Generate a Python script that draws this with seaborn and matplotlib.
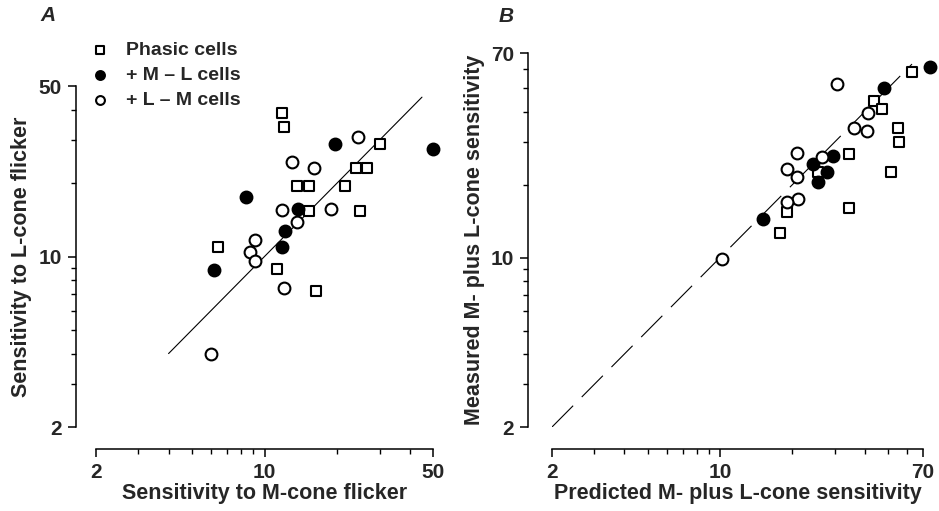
import matplotlib
matplotlib.use("Agg")
from matplotlib import pyplot as plt
from matplotlib.ticker import LogLocator, NullFormatter, FixedLocator, FixedFormatter
import seaborn as sns

sns.set_theme(style="white")
plt.rcParams["font.family"] = ["Liberation Sans", "DejaVu Sans"]
plt.rcParams["font.weight"] = "bold"

# Panel A: M-cone vs L-cone flicker sensitivity
a_phasic_x = [11.8, 12.0, 30.0, 24.0, 26.5, 13.7, 15.3, 21.6, 15.3, 24.8, 6.4, 11.3, 16.4]
a_phasic_y = [38.9, 33.8, 28.9, 23.1, 23.1, 19.4, 19.4, 19.4, 15.3, 15.3, 10.9, 8.9, 7.2]
a_ml_x = [19.7, 50.0, 8.4, 13.8, 12.2, 11.8, 6.2]
a_ml_y = [28.9, 27.6, 17.5, 15.7, 12.7, 10.9, 8.8]
a_lm_x = [24.5, 13.0, 16.0, 11.8, 18.8, 13.7, 9.1, 8.7, 9.1, 12.0, 6.0]
a_lm_y = [30.8, 24.5, 23.1, 15.5, 15.7, 13.9, 11.7, 10.4, 9.6, 7.4, 4.0]
a_fit = [4.0, 45.0]

# Panel B: predicted vs measured M+L sensitivity
b_phasic_x = [63.0, 43.6, 47.2, 55.0, 55.8, 34.3, 25.5, 51.3, 34.3, 19.1, 17.7]
b_phasic_y = [58.2, 44.4, 41.1, 34.3, 30.0, 26.9, 22.6, 22.6, 16.0, 15.5, 12.7]
b_ml_x = [74.5, 48.1, 29.5, 24.3, 27.9, 25.7, 15.1]
b_ml_y = [61.1, 50.1, 26.3, 24.4, 22.6, 20.5, 14.4]
b_lm_x = [30.7, 41.2, 36.3, 41.0, 20.9, 26.5, 19.1, 20.9, 21.2, 19.1, 10.2]
b_lm_y = [52.0, 39.5, 34.3, 33.5, 27.1, 26.1, 23.3, 21.5, 17.5, 17.0, 9.85]
b_identity = [2.0, 63.0]

labels = ["Phasic cells", "+ M \u2013 L cells", "+ L \u2013 M cells"]

fig = plt.figure(figsize=(9.39, 5.11), dpi=100)
ax_a = fig.add_axes([96 / 939, 1 - 427 / 511, 337 / 939, 341 / 511])
ax_b = fig.add_axes([552 / 939, 1 - 427 / 511, 371 / 939, 374 / 511])


def draw_groups(ax, px, py, mx, my, lx, ly):
    common = dict(edgecolor="black", linewidth=1.5, ax=ax, clip_on=False, zorder=3)
    sns.scatterplot(x=px, y=py, marker="s", s=58, color="white", label=labels[0], **common)
    sns.scatterplot(x=mx, y=my, marker="o", s=72, color="black", label=labels[1], **common)
    sns.scatterplot(x=lx, y=ly, marker="o", s=72, color="white", label=labels[2], **common)


def style_axis(ax, lim, majors, left_off, bottom_off):
    ax.set_xscale("log")
    ax.set_yscale("log")
    ax.set_xlim(*lim)
    ax.set_ylim(*lim)
    for axis in (ax.xaxis, ax.yaxis):
        axis.set_major_locator(FixedLocator(majors))
        axis.set_major_formatter(FixedFormatter([str(m) for m in majors]))
        axis.set_minor_locator(LogLocator(base=10, subs=range(2, 10)))
        axis.set_minor_formatter(NullFormatter())
    sns.despine(ax=ax)
    ax.spines["left"].set_position(("outward", left_off))
    ax.spines["bottom"].set_position(("outward", bottom_off))
    for side in ("left", "bottom"):
        ax.spines[side].set_linewidth(1.1)
        ax.spines[side].set_color("black")
    ax.tick_params(which="major", direction="out", length=6, width=1.1, color="black",
                   labelsize=15, pad=4, left=True, bottom=True)
    ax.tick_params(which="minor", direction="out", length=3.5, width=1.0, color="black",
                   left=True, bottom=True)
    for lab in ax.get_xticklabels() + ax.get_yticklabels():
        lab.set_fontweight("bold")


# Panel A
draw_groups(ax_a, a_phasic_x, a_phasic_y, a_ml_x, a_ml_y, a_lm_x, a_lm_y)
sns.lineplot(x=a_fit, y=a_fit, color="black", linewidth=0.8, ax=ax_a, zorder=2)
style_axis(ax_a, (2, 50), [2, 10, 50], 14.4, 15.8)
ax_a.set_xlabel("Sensitivity to M-cone flicker", fontsize=15.5, fontweight="bold", labelpad=1)
ax_a.set_ylabel("Sensitivity to L-cone flicker", fontsize=15.5, fontweight="bold", labelpad=5)
leg = ax_a.legend(loc="upper left", bbox_to_anchor=(81 / 939, 1 - 32 / 511),
                  bbox_transform=fig.transFigure, frameon=False, fontsize=14,
                  markerscale=0.75, handletextpad=0.8, labelspacing=0.38,
                  borderpad=0, handlelength=1.0)
for t in leg.get_texts():
    t.set_fontweight("bold")

# Panel B
draw_groups(ax_b, b_phasic_x, b_phasic_y, b_ml_x, b_ml_y, b_lm_x, b_lm_y)
sns.lineplot(x=b_identity, y=b_identity, color="black", linewidth=0.8,
             dashes=False, ax=ax_b, zorder=2).lines[-1].set_dashes([27, 11])
ax_b.get_legend().remove()
style_axis(ax_b, (2, 70), [2, 10, 70], 17.3, 15.8)
ax_b.set_xlabel("Predicted M- plus L-cone sensitivity", fontsize=15.5, fontweight="bold", labelpad=1)
ax_b.set_ylabel("Measured M- plus L-cone sensitivity", fontsize=15.5, fontweight="bold", labelpad=4)

fig.text(48 / 939, 1 - 15 / 511, "A", fontsize=15, fontweight="bold", fontstyle="italic",
         ha="center", va="center")
fig.text(506 / 939, 1 - 17 / 511, "B", fontsize=15, fontweight="bold", fontstyle="italic",
         ha="center", va="center")

fig.savefig("out.png", dpi=100)
